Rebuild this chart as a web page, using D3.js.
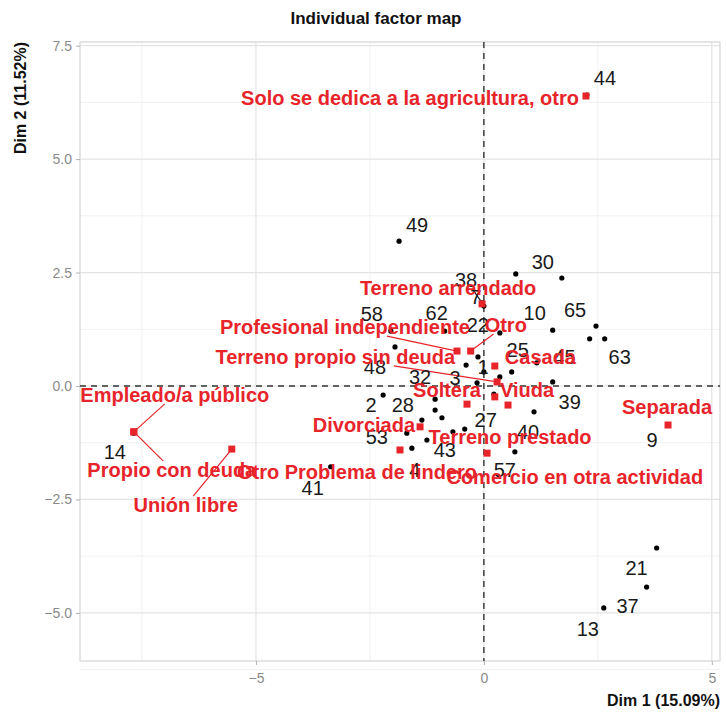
<!DOCTYPE html>
<html><head><meta charset="utf-8">
<script src="https://cdn.jsdelivr.net/npm/d3@7/dist/d3.min.js"></script>
<style>
body{margin:0;background:#fff;}
svg{display:block;font-family:"Liberation Sans",Arial,Helvetica,sans-serif;}
</style>
</head><body>
<svg id="chart" width="726" height="715"></svg>
<script>
// ---------------- DATA ----------------
const indNames = ["44","49","30","","38","7","58","62","22","10","65","45","63","48","3","1","25","","","","","39","","40","57","2","28","32","","","53","","4","43","27","41","14","9","21","37","13"];
const indDim1  = [2.26,-1.86,0.70,1.71,-0.04,0.00,-2.04,-0.86,0.35,1.51,2.46,2.32,2.65,-1.95,-0.39,-0.13,0.61,0.00,0.35,-0.15,1.16,1.51,0.22,1.10,0.68,-2.21,-1.36,-1.07,-1.07,-0.92,-1.69,-1.25,-1.58,-0.68,-0.42,-3.36,-7.68,4.04,3.79,3.57,2.63];
const indDim2  = [6.41,3.19,2.47,2.38,1.83,1.76,1.21,1.21,1.17,1.23,1.32,1.04,1.04,0.86,0.46,0.64,0.31,0.31,0.20,0.07,0.51,0.09,-0.18,-0.57,-1.45,-0.20,-0.75,-0.29,-0.53,-0.70,-1.04,-1.19,-1.37,-1.01,-0.95,-1.78,-1.04,-0.86,-3.57,-4.43,-4.89];

const catNames = ["Solo se dedica a la agricultura, otro","Terreno arrendado","Profesional independiente","Otro","Terreno propio sin deuda","Casada","Soltera","Viuda","Divorciada","Terreno prestado","Otro Problema de lindero","Comercio en otra actividad","Separada","Empleado/a público","Propio con deuda","Unión libre"];
const catDim1  = [2.24,-0.04,-0.59,-0.29,0.29,0.24,-0.37,0.53,-1.40,0.07,-1.84,0.24,4.04,-7.68,-7.68,-5.53];
const catDim2  = [6.39,1.81,0.77,0.77,0.09,0.44,-0.40,-0.42,-0.90,-1.48,-1.41,-0.24,-0.86,-1.01,-1.01,-1.39];

const xTickValues = [-5, 0, 5];
const yTickValues = [-5, -2.5, 0, 2.5, 5, 7.5];
const xMinorValues = [-7.5, -2.5, 2.5];
const yMinorValues = [-6.25, -3.75, -1.25, 1.25, 3.75, 6.25];
const chartTitle = "Individual factor map";
const xTitle = "Dim 1 (15.09%)";
const yTitle = "Dim 2 (11.52%)";

// ---------------- LAYOUT (label nudges in px, relative to the point) ----------------
const indLabelPos = {
  "44":[18,-17],"49":[18,-16],"30":[27,-12],"38":[-16,-23],"7":[-8,-9],"58":[-19,-17],"62":[-8,-18],
  "22":[-22,-8],"10":[-18,-17],"65":[-21,-16],"45":[-25,18],"63":[15,18],"48":[-20,20],"3":[-11,13],
  "1":[5,10],"25":[6,-22],"39":[17,20],"40":[-6,20],"57":[-10,18],"2":[-12,10],"28":[-19,-15],
  "32":[-15,-22],"53":[-30,4],"4":[3,22],"43":[-8,18],"27":[21,-9],"41":[-18,21],"14":[-19,19],
  "9":[-16,15],"21":[-20,20],"37":[-19,19],"13":[-16,21]
};
const catLabelPos = {
  "Solo se dedica a la agricultura, otro":[-7,2,"end"],
  "Terreno arrendado":[-34,-16,"middle"],
  "Profesional independiente":[13,-24,"end"],
  "Otro":[14,-26,"start"],
  "Terreno propio sin deuda":[-42,-25,"end"],
  "Casada":[10,-9,"start"],
  "Soltera":[-20,-14,"middle"],
  "Viuda":[19,-15,"middle"],
  "Divorciada":[-5,-2,"end"],
  "Terreno prestado":[23,-16,"middle"],
  "Otro Problema de lindero":[-43,22,"middle"],
  "Comercio en otra actividad":[80,80,"middle"],
  "Separada":[-1,-18,"middle"],
  "Empleado/a público":[41,-37,"middle"],
  "Propio con deuda":[38,38,"middle"],
  "Unión libre":[-46,56,"middle"]
};
const segmentLabels = new Set(["38","Profesional independiente","Otro","Terreno propio sin deuda","Empleado/a público","Propio con deuda","Unión libre"]);

const W = 726, H = 715;
const M = {top: 42, right: 6, bottom: 54, left: 80};
const RED = "#e8242b";

const x = d3.scaleLinear().domain([-8.86, 5.18]).range([M.left, W - M.right]);
const y = d3.scaleLinear().domain([-6.06, 7.58]).range([H - M.bottom, M.top]);

const svg = d3.select("#chart");
svg.append("rect").attr("width", W).attr("height", H).attr("fill", "#fff");

const panel = svg.append("g");
// minor grid
panel.selectAll(".vminor").data(xMinorValues).join("line")
  .attr("x1", d => x(d)).attr("x2", d => x(d)).attr("y1", M.top).attr("y2", H - M.bottom)
  .attr("stroke", "#f1f1f1").attr("stroke-width", 1);
panel.selectAll(".hminor").data(yMinorValues).join("line")
  .attr("y1", d => y(d)).attr("y2", d => y(d)).attr("x1", M.left).attr("x2", W - M.right)
  .attr("stroke", "#f1f1f1").attr("stroke-width", 1);
// major grid
panel.selectAll(".vmajor").data(xTickValues).join("line")
  .attr("x1", d => x(d)).attr("x2", d => x(d)).attr("y1", M.top).attr("y2", H - M.bottom)
  .attr("stroke", "#e3e3e3").attr("stroke-width", 1.2);
panel.selectAll(".hmajor").data(yTickValues).join("line")
  .attr("y1", d => y(d)).attr("y2", d => y(d)).attr("x1", M.left).attr("x2", W - M.right)
  .attr("stroke", "#e3e3e3").attr("stroke-width", 1.2);
// border
panel.append("rect").attr("x", M.left).attr("y", M.top)
  .attr("width", W - M.left - M.right).attr("height", H - M.top - M.bottom)
  .attr("fill", "none").attr("stroke", "#d4d4d4").attr("stroke-width", 1.2);

// axes
const xAxis = d3.axisBottom(x).tickValues(xTickValues).tickFormat(d3.format("d")).tickSize(4).tickPadding(8);
const yAxis = d3.axisLeft(y).tickValues(yTickValues).tickFormat(d3.format(".1f")).tickSize(4).tickPadding(4);
const gx = svg.append("g").attr("transform", `translate(0,${H - M.bottom})`).call(xAxis);
const gy = svg.append("g").attr("transform", `translate(${M.left},0)`).call(yAxis);
[gx, gy].forEach(g => {
  g.select(".domain").remove();
  g.selectAll(".tick line").attr("stroke", "#b0b0b0");
  g.selectAll(".tick text").attr("fill", "#8a8a8a").style("font-size", "14px");
});

// dashed reference lines
svg.append("line").attr("x1", x(0)).attr("x2", x(0)).attr("y1", M.top).attr("y2", H - M.bottom)
  .attr("stroke", "#333").attr("stroke-width", 1.4).attr("stroke-dasharray", "6,5");
svg.append("line").attr("y1", y(0)).attr("y2", y(0)).attr("x1", M.left).attr("x2", W - M.right)
  .attr("stroke", "#333").attr("stroke-width", 1.4).attr("stroke-dasharray", "6,5");

// data
const inds = indNames.map((n, i) => ({name: n, x: indDim1[i], y: indDim2[i]}));
const cats = catNames.map((n, i) => ({name: n, x: catDim1[i], y: catDim2[i]}));

const segG = svg.append("g");
svg.append("g").selectAll("circle").data(inds).join("circle")
  .attr("cx", d => x(d.x)).attr("cy", d => y(d.y)).attr("r", 2.6).attr("fill", "#000");
svg.append("g").selectAll("rect").data(cats).join("rect")
  .attr("x", d => x(d.x) - 3.5).attr("y", d => y(d.y) - 3.5).attr("width", 7).attr("height", 7)
  .attr("fill", RED);

function clipToBox(px, py, b, pad) {
  const cx = b.x + b.width / 2, cy = b.y + b.height / 2;
  const hw = b.width / 2 + pad, hh = b.height / 2 + pad;
  const dx = px - cx, dy = py - cy;
  if (dx === 0 && dy === 0) return [cx, cy];
  const t = Math.min(hw / Math.abs(dx || 1e-9), hh / Math.abs(dy || 1e-9));
  return [cx + dx * Math.min(t, 1), cy + dy * Math.min(t, 1)];
}

function drawLabels(data, pos, opts) {
  const g = svg.append("g");
  data.filter(d => d.name !== "" && pos[d.name]).forEach(d => {
    const p = pos[d.name];
    const px = x(d.x), py = y(d.y);
    const t = g.append("text")
      .attr("x", px + p[0]).attr("y", py + p[1])
      .attr("text-anchor", p[2] || "middle")
      .attr("dominant-baseline", "central")
      .attr("fill", opts.color)
      .style("font-size", opts.size + "px")
      .style("font-weight", opts.weight)
      .text(d.name);
    if (segmentLabels.has(d.name)) {
      const b = t.node().getBBox();
      const e = clipToBox(px, py, {x: b.x, y: b.y + 3, width: b.width, height: b.height - 6}, 1);
      segG.append("line").attr("x1", px).attr("y1", py).attr("x2", e[0]).attr("y2", e[1])
        .attr("stroke", opts.color).attr("stroke-width", 1.2);
    }
  });
}
drawLabels(inds, indLabelPos, {color: "#1a1a1a", size: 20, weight: "normal"});
drawLabels(cats, catLabelPos, {color: RED, size: 20, weight: "bold"});

// titles
svg.append("text").attr("x", 376).attr("y", 24).attr("text-anchor", "middle")
  .style("font-size", "17px").style("font-weight", "bold").attr("fill", "#111").text(chartTitle);
svg.append("text").attr("x", W - M.right).attr("y", 706).attr("text-anchor", "end")
  .style("font-size", "16px").style("font-weight", "bold").attr("fill", "#111").text(xTitle);
svg.append("text").attr("transform", `translate(26,${M.top}) rotate(-90)`).attr("text-anchor", "end")
  .style("font-size", "16px").style("font-weight", "bold").attr("fill", "#111").text(yTitle);
</script>
</body></html>
